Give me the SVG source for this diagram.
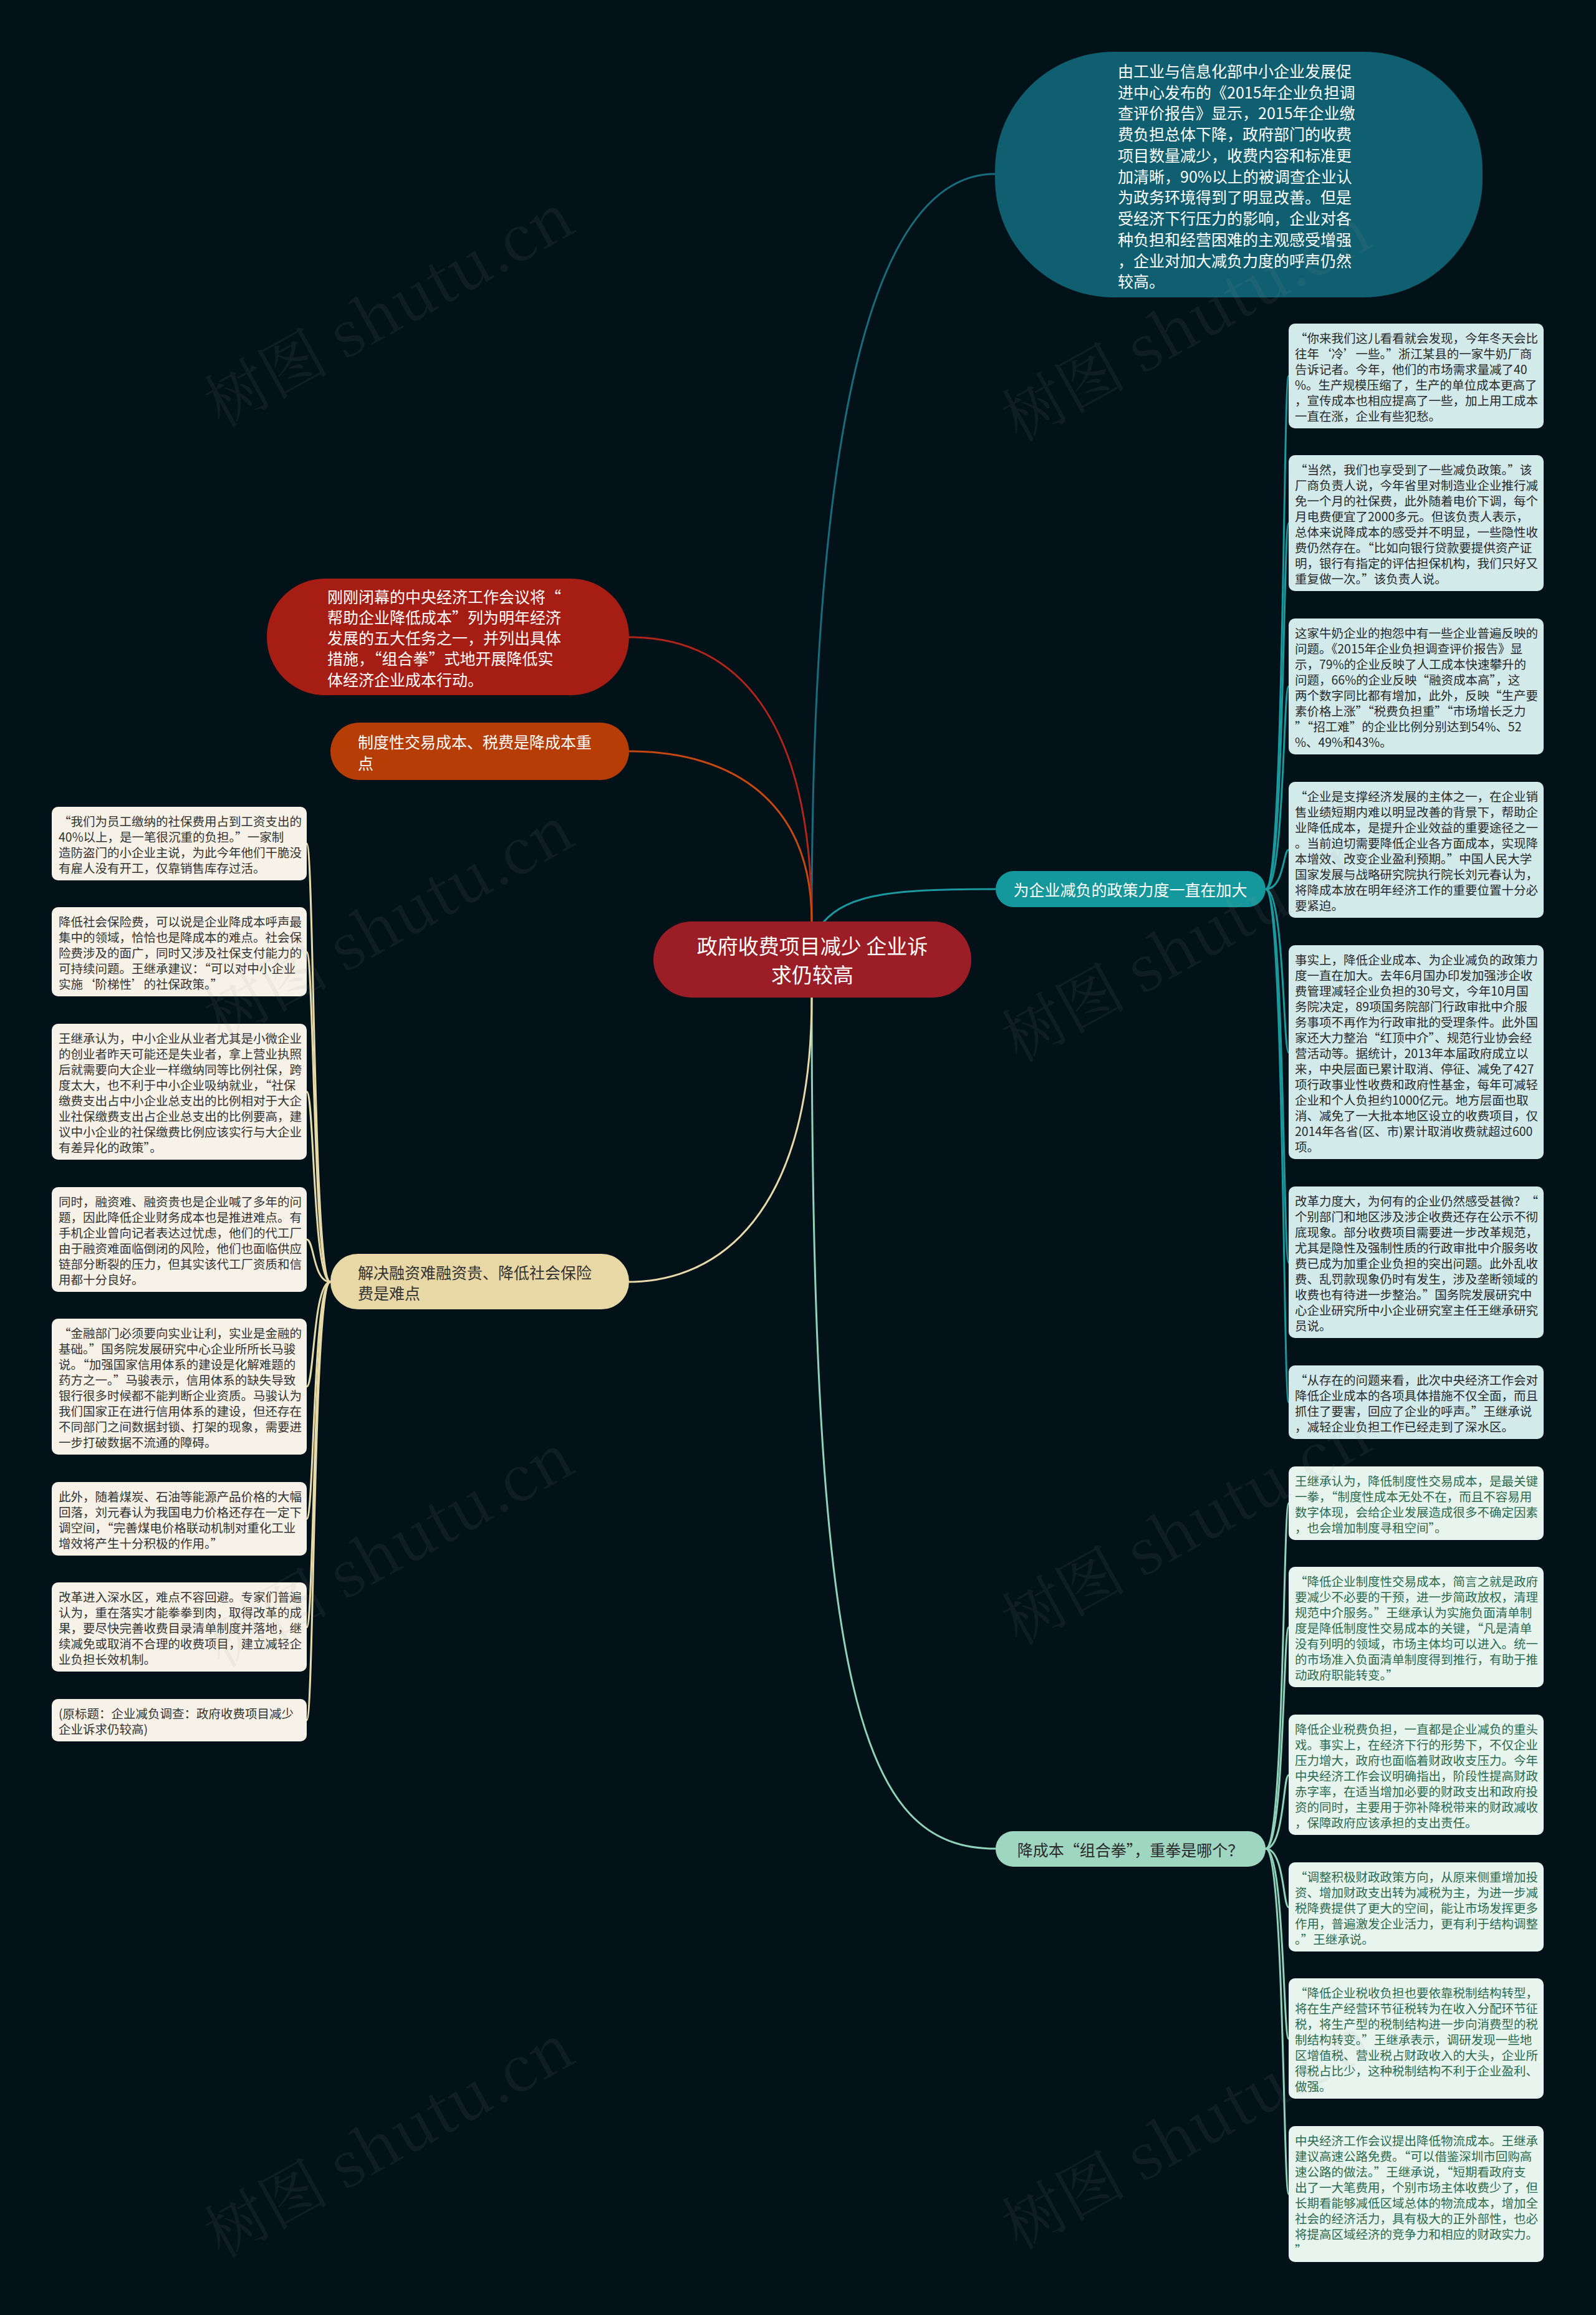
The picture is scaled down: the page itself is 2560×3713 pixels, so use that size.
<svg xmlns="http://www.w3.org/2000/svg" width="2560" height="3713" viewBox="0 0 2560 3713">
<style>
.t{font-family:"Noto Sans CJK SC","Noto Sans",sans-serif;dominant-baseline:central}
.lf{font-size:19.5px}
.rt{fill:#d3eaeb}.rtt{fill:#262a2c}
.gt{fill:#e8f5ef}.gtt{fill:#2b6a4e}
.lt{fill:#f7f2e7}.ltt{fill:#333333}
.c{fill:none;stroke-width:3}
.wm{font-family:"Noto Serif CJK SC","Liberation Serif",serif;font-size:100px;fill:#9a9a9a;opacity:0.09}
</style>
<rect x="0" y="0" width="2560" height="3713" fill="#031119"/>
<g id="connectors">
<path class="c" stroke="#176d7d" d="M1302 1478 C1302 600 1420 279 1596 279"/>
<path class="c" stroke="#1a9a9e" d="M1320 1480 C1360 1432 1440 1426 1597 1426"/>
<path class="c" stroke="#8fd3bb" d="M1302 1600 C1302 2720 1380 2965 1597 2965"/>
<path class="c" stroke="#b0241a" d="M1302 1478 C1302 1150 1180 1022 1009 1022"/>
<path class="c" stroke="#c5480e" d="M1302 1478 C1302 1290 1180 1205 1009 1205"/>
<path class="c" stroke="#e8d9a8" d="M1302 1600 C1302 1950 1150 2056 1009 2056"/>
<g stroke="#1a9a9e" class="c">
<path d="M2030 1426 C2060 1426 2058 603 2067 603"/>
<path d="M2030 1426 C2060 1426 2058 839 2067 839"/>
<path d="M2030 1426 C2060 1426 2058 1101 2067 1101"/>
<path d="M2030 1426 C2060 1426 2058 1363 2067 1363"/>
<path d="M2030 1426 C2060 1426 2058 1688 2067 1688"/>
<path d="M2030 1426 C2060 1426 2058 2025 2067 2025"/>
<path d="M2030 1426 C2060 1426 2058 2249 2067 2249"/>
</g>
<g stroke="#8fd3bb" class="c">
<path d="M2030 2965 C2060 2965 2058 2411 2067 2411"/>
<path d="M2030 2965 C2060 2965 2058 2610 2067 2610"/>
<path d="M2030 2965 C2060 2965 2058 2847 2067 2847"/>
<path d="M2030 2965 C2060 2965 2058 3059 2067 3059"/>
<path d="M2030 2965 C2060 2965 2058 3270 2067 3270"/>
<path d="M2030 2965 C2060 2965 2058 3519 2067 3519"/>
</g>
<g stroke="#e8d9a8" class="c">
<path d="M530 2056 C502 2056 504 1353 492 1353"/>
<path d="M530 2056 C502 2056 504 1527 492 1527"/>
<path d="M530 2056 C502 2056 504 1751 492 1751"/>
<path d="M530 2056 C502 2056 504 1988 492 1988"/>
<path d="M530 2056 C502 2056 504 2224 492 2224"/>
<path d="M530 2056 C502 2056 504 2436 492 2436"/>
<path d="M530 2056 C502 2056 504 2610 492 2610"/>
<path d="M530 2056 C502 2056 504 2759 492 2759"/>
</g>
</g>
<g id="root">
<rect x="1048" y="1478" width="510" height="122" rx="61" fill="#9b1e26"/>
<text class="t" x="1303" y="1516" font-size="33" fill="#ffffff" text-anchor="middle">政府收费项目减少 企业诉</text>
<text class="t" x="1303" y="1562" font-size="33" fill="#ffffff" text-anchor="middle">求仍较高</text>
</g>
<g id="top-summary">
<rect x="1596" y="83" width="782" height="394" rx="190" fill="#0f5f70"/>
<g class="t" font-size="25" fill="#ffffff">
<text x="1793" y="113">由工业与信息化部中小企业发展促</text>
<text x="1793" y="147">进中心发布的《2015年企业负担调</text>
<text x="1793" y="180">查评价报告》显示，2015年企业缴</text>
<text x="1793" y="214">费负担总体下降，政府部门的收费</text>
<text x="1793" y="248">项目数量减少，收费内容和标准更</text>
<text x="1793" y="282">加清晰，90%以上的被调查企业认</text>
<text x="1793" y="315">为政务环境得到了明显改善。但是</text>
<text x="1793" y="349">受经济下行压力的影响，企业对各</text>
<text x="1793" y="383">种负担和经营困难的主观感受增强</text>
<text x="1793" y="417">，企业对加大减负力度的呼声仍然</text>
<text x="1793" y="450">较高。</text>
</g>
</g>
<g id="meeting">
<rect x="428" y="928" width="581" height="187" rx="93" fill="#a61d14"/>
<g class="t" font-size="25" fill="#ffffff">
<text x="525" y="956">刚刚闭幕的中央经济工作会议将“</text>
<text x="525" y="989">帮助企业降低成本”列为明年经济</text>
<text x="525" y="1022">发展的五大任务之一，并列出具体</text>
<text x="525" y="1055">措施，“组合拳”式地开展降低实</text>
<text x="525" y="1089">体经济企业成本行动。</text>
</g>
</g>
<g id="focus">
<rect x="530" y="1159" width="479" height="92" rx="46" fill="#b63d06"/>
<g class="t" font-size="25" fill="#ffffff">
<text x="574" y="1189">制度性交易成本、税费是降成本重</text>
<text x="574" y="1223">点</text>
</g>
</g>
<g id="difficulty">
<rect x="530" y="2011" width="479" height="89" rx="44" fill="#e8d8a6"/>
<g class="t" font-size="25" fill="#333333">
<text x="574" y="2040">解决融资难融资贵、降低社会保险</text>
<text x="574" y="2073">费是难点</text>
</g>
</g>
<g id="policy">
<rect x="1597" y="1397" width="433" height="58" rx="29" fill="#15989b"/>
<text class="t" x="1813" y="1426" font-size="25" fill="#ffffff" text-anchor="middle">为企业减负的政策力度一直在加大</text>
</g>
<g id="combo">
<rect x="1597" y="2937" width="433" height="57" rx="28" fill="#9fd6c2"/>
<text class="t" x="1813" y="2966" font-size="25" fill="#2a2a2a" text-anchor="middle">降成本“组合拳”，重拳是哪个？</text>
</g>
<g id="r1" transform="translate(2067 519)"><rect class="rt" width="409" height="168" rx="10"/>
<g class="t lf rtt"><text x="10" y="22">“你来我们这儿看看就会发现，今年冬天会比</text><text x="10" y="47">往年‘冷’一些。”浙江某县的一家牛奶厂商</text><text x="10" y="72">告诉记者。今年，他们的市场需求量减了40</text><text x="10" y="97">%。生产规模压缩了，生产的单位成本更高了</text><text x="10" y="122">，宣传成本也相应提高了一些，加上用工成本</text><text x="10" y="147">一直在涨，企业有些犯愁。</text></g></g>
<g id="r2" transform="translate(2067 730)"><rect class="rt" width="409" height="218" rx="10"/>
<g class="t lf rtt"><text x="10" y="22">“当然，我们也享受到了一些减负政策。”该</text><text x="10" y="47">厂商负责人说，今年省里对制造业企业推行减</text><text x="10" y="72">免一个月的社保费，此外随着电价下调，每个</text><text x="10" y="97">月电费便宜了2000多元。但该负责人表示，</text><text x="10" y="122">总体来说降成本的感受并不明显，一些隐性收</text><text x="10" y="147">费仍然存在。“比如向银行贷款要提供资产证</text><text x="10" y="172">明，银行有指定的评估担保机构，我们只好又</text><text x="10" y="197">重复做一次。”该负责人说。</text></g></g>
<g id="r3" transform="translate(2067 992)"><rect class="rt" width="409" height="218" rx="10"/>
<g class="t lf rtt"><text x="10" y="22">这家牛奶企业的抱怨中有一些企业普遍反映的</text><text x="10" y="47">问题。《2015年企业负担调查评价报告》显</text><text x="10" y="72">示，79%的企业反映了人工成本快速攀升的</text><text x="10" y="97">问题，66%的企业反映“融资成本高”，这</text><text x="10" y="122">两个数字同比都有增加，此外，反映“生产要</text><text x="10" y="147">素价格上涨”“税费负担重”“市场增长乏力</text><text x="10" y="172">”“招工难”的企业比例分别达到54%、52</text><text x="10" y="197">%、49%和43%。</text></g></g>
<g id="r4" transform="translate(2067 1254)"><rect class="rt" width="409" height="218" rx="10"/>
<g class="t lf rtt"><text x="10" y="22">“企业是支撑经济发展的主体之一，在企业销</text><text x="10" y="47">售业绩短期内难以明显改善的背景下，帮助企</text><text x="10" y="72">业降低成本，是提升企业效益的重要途径之一</text><text x="10" y="97">。当前迫切需要降低企业各方面成本，实现降</text><text x="10" y="122">本增效、改变企业盈利预期。”中国人民大学</text><text x="10" y="147">国家发展与战略研究院执行院长刘元春认为，</text><text x="10" y="172">将降成本放在明年经济工作的重要位置十分必</text><text x="10" y="197">要紧迫。</text></g></g>
<g id="r5" transform="translate(2067 1516)"><rect class="rt" width="409" height="343" rx="10"/>
<g class="t lf rtt"><text x="10" y="22">事实上，降低企业成本、为企业减负的政策力</text><text x="10" y="47">度一直在加大。去年6月国办印发加强涉企收</text><text x="10" y="72">费管理减轻企业负担的30号文，今年10月国</text><text x="10" y="97">务院决定，89项国务院部门行政审批中介服</text><text x="10" y="122">务事项不再作为行政审批的受理条件。此外国</text><text x="10" y="147">家还大力整治“红顶中介”、规范行业协会经</text><text x="10" y="172">营活动等。据统计，2013年本届政府成立以</text><text x="10" y="197">来，中央层面已累计取消、停征、减免了427</text><text x="10" y="222">项行政事业性收费和政府性基金，每年可减轻</text><text x="10" y="247">企业和个人负担约1000亿元。地方层面也取</text><text x="10" y="272">消、减免了一大批本地区设立的收费项目，仅</text><text x="10" y="297">2014年各省(区、市)累计取消收费就超过600</text><text x="10" y="322">项。</text></g></g>
<g id="r6" transform="translate(2067 1903)"><rect class="rt" width="409" height="243" rx="10"/>
<g class="t lf rtt"><text x="10" y="22">改革力度大，为何有的企业仍然感受甚微？“</text><text x="10" y="47">个别部门和地区涉及涉企收费还存在公示不彻</text><text x="10" y="72">底现象。部分收费项目需要进一步改革规范，</text><text x="10" y="97">尤其是隐性及强制性质的行政审批中介服务收</text><text x="10" y="122">费已成为加重企业负担的突出问题。此外乱收</text><text x="10" y="147">费、乱罚款现象仍时有发生，涉及垄断领域的</text><text x="10" y="172">收费也有待进一步整治。”国务院发展研究中</text><text x="10" y="197">心企业研究所中小企业研究室主任王继承研究</text><text x="10" y="222">员说。</text></g></g>
<g id="r7" transform="translate(2067 2190)"><rect class="rt" width="409" height="118" rx="10"/>
<g class="t lf rtt"><text x="10" y="22">“从存在的问题来看，此次中央经济工作会对</text><text x="10" y="47">降低企业成本的各项具体措施不仅全面，而且</text><text x="10" y="72">抓住了要害，回应了企业的呼声。”王继承说</text><text x="10" y="97">，减轻企业负担工作已经走到了深水区。</text></g></g>
<g id="r8" transform="translate(2067 2352)"><rect class="gt" width="409" height="118" rx="10"/>
<g class="t lf gtt"><text x="10" y="22">王继承认为，降低制度性交易成本，是最关键</text><text x="10" y="47">一拳，“制度性成本无处不在，而且不容易用</text><text x="10" y="72">数字体现，会给企业发展造成很多不确定因素</text><text x="10" y="97">，也会增加制度寻租空间”。</text></g></g>
<g id="r9" transform="translate(2067 2513)"><rect class="gt" width="409" height="193" rx="10"/>
<g class="t lf gtt"><text x="10" y="22">“降低企业制度性交易成本，简言之就是政府</text><text x="10" y="47">要减少不必要的干预，进一步简政放权，清理</text><text x="10" y="72">规范中介服务。”王继承认为实施负面清单制</text><text x="10" y="97">度是降低制度性交易成本的关键，“凡是清单</text><text x="10" y="122">没有列明的领域，市场主体均可以进入。统一</text><text x="10" y="147">的市场准入负面清单制度得到推行，有助于推</text><text x="10" y="172">动政府职能转变。”</text></g></g>
<g id="r10" transform="translate(2067 2750)"><rect class="gt" width="409" height="193" rx="10"/>
<g class="t lf gtt"><text x="10" y="22">降低企业税费负担，一直都是企业减负的重头</text><text x="10" y="47">戏。事实上，在经济下行的形势下，不仅企业</text><text x="10" y="72">压力增大，政府也面临着财政收支压力。今年</text><text x="10" y="97">中央经济工作会议明确指出，阶段性提高财政</text><text x="10" y="122">赤字率，在适当增加必要的财政支出和政府投</text><text x="10" y="147">资的同时，主要用于弥补降税带来的财政减收</text><text x="10" y="172">，保障政府应该承担的支出责任。</text></g></g>
<g id="r11" transform="translate(2067 2987)"><rect class="gt" width="409" height="143" rx="10"/>
<g class="t lf gtt"><text x="10" y="22">“调整积极财政政策方向，从原来侧重增加投</text><text x="10" y="47">资、增加财政支出转为减税为主，为进一步减</text><text x="10" y="72">税降费提供了更大的空间，能让市场发挥更多</text><text x="10" y="97">作用，普遍激发企业活力，更有利于结构调整</text><text x="10" y="122">。”王继承说。</text></g></g>
<g id="r12" transform="translate(2067 3173)"><rect class="gt" width="409" height="193" rx="10"/>
<g class="t lf gtt"><text x="10" y="22">“降低企业税收负担也要依靠税制结构转型，</text><text x="10" y="47">将在生产经营环节征税转为在收入分配环节征</text><text x="10" y="72">税，将生产型的税制结构进一步向消费型的税</text><text x="10" y="97">制结构转变。”王继承表示，调研发现一些地</text><text x="10" y="122">区增值税、营业税占财政收入的大头，企业所</text><text x="10" y="147">得税占比少，这种税制结构不利于企业盈利、</text><text x="10" y="172">做强。</text></g></g>
<g id="r13" transform="translate(2067 3410)"><rect class="gt" width="409" height="218" rx="10"/>
<g class="t lf gtt"><text x="10" y="22">中央经济工作会议提出降低物流成本。王继承</text><text x="10" y="47">建议高速公路免费。“可以借鉴深圳市回购高</text><text x="10" y="72">速公路的做法。”王继承说，“短期看政府支</text><text x="10" y="97">出了一大笔费用，个别市场主体收费少了，但</text><text x="10" y="122">长期看能够减低区域总体的物流成本，增加全</text><text x="10" y="147">社会的经济活力，具有极大的正外部性，也必</text><text x="10" y="172">将提高区域经济的竞争力和相应的财政实力。</text><text x="10" y="197">”</text></g></g>
<g id="l1" transform="translate(83 1294)"><rect class="lt" width="409" height="118" rx="10"/>
<g class="t lf ltt"><text x="11" y="22">“我们为员工缴纳的社保费用占到工资支出的</text><text x="11" y="47">40%以上，是一笔很沉重的负担。”一家制</text><text x="11" y="72">造防盗门的小企业主说，为此今年他们干脆没</text><text x="11" y="97">有雇人没有开工，仅靠销售库存过活。</text></g></g>
<g id="l2" transform="translate(83 1455)"><rect class="lt" width="409" height="143" rx="10"/>
<g class="t lf ltt"><text x="11" y="22">降低社会保险费，可以说是企业降成本呼声最</text><text x="11" y="47">集中的领域，恰恰也是降成本的难点。社会保</text><text x="11" y="72">险费涉及的面广，同时又涉及社保支付能力的</text><text x="11" y="97">可持续问题。王继承建议：“可以对中小企业</text><text x="11" y="122">实施‘阶梯性’的社保政策。”</text></g></g>
<g id="l3" transform="translate(83 1642)"><rect class="lt" width="409" height="218" rx="10"/>
<g class="t lf ltt"><text x="11" y="22">王继承认为，中小企业从业者尤其是小微企业</text><text x="11" y="47">的创业者昨天可能还是失业者，拿上营业执照</text><text x="11" y="72">后就需要向大企业一样缴纳同等比例社保，跨</text><text x="11" y="97">度太大，也不利于中小企业吸纳就业，“社保</text><text x="11" y="122">缴费支出占中小企业总支出的比例相对于大企</text><text x="11" y="147">业社保缴费支出占企业总支出的比例要高，建</text><text x="11" y="172">议中小企业的社保缴费比例应该实行与大企业</text><text x="11" y="197">有差异化的政策”。</text></g></g>
<g id="l4" transform="translate(83 1904)"><rect class="lt" width="409" height="168" rx="10"/>
<g class="t lf ltt"><text x="11" y="22">同时，融资难、融资贵也是企业喊了多年的问</text><text x="11" y="47">题，因此降低企业财务成本也是推进难点。有</text><text x="11" y="72">手机企业曾向记者表达过忧虑，他们的代工厂</text><text x="11" y="97">由于融资难面临倒闭的风险，他们也面临供应</text><text x="11" y="122">链部分断裂的压力，但其实该代工厂资质和信</text><text x="11" y="147">用都十分良好。</text></g></g>
<g id="l5" transform="translate(83 2115)"><rect class="lt" width="409" height="218" rx="10"/>
<g class="t lf ltt"><text x="11" y="22">“金融部门必须要向实业让利，实业是金融的</text><text x="11" y="47">基础。”国务院发展研究中心企业所所长马骏</text><text x="11" y="72">说。“加强国家信用体系的建设是化解难题的</text><text x="11" y="97">药方之一。”马骏表示，信用体系的缺失导致</text><text x="11" y="122">银行很多时候都不能判断企业资质。马骏认为</text><text x="11" y="147">我们国家正在进行信用体系的建设，但还存在</text><text x="11" y="172">不同部门之间数据封锁、打架的现象，需要进</text><text x="11" y="197">一步打破数据不流通的障碍。</text></g></g>
<g id="l6" transform="translate(83 2377)"><rect class="lt" width="409" height="118" rx="10"/>
<g class="t lf ltt"><text x="11" y="22">此外，随着煤炭、石油等能源产品价格的大幅</text><text x="11" y="47">回落，刘元春认为我国电力价格还存在一定下</text><text x="11" y="72">调空间，“完善煤电价格联动机制对重化工业</text><text x="11" y="97">增效将产生十分积极的作用。”</text></g></g>
<g id="l7" transform="translate(83 2538)"><rect class="lt" width="409" height="143" rx="10"/>
<g class="t lf ltt"><text x="11" y="22">改革进入深水区，难点不容回避。专家们普遍</text><text x="11" y="47">认为，重在落实才能拳拳到肉，取得改革的成</text><text x="11" y="72">果，要尽快完善收费目录清单制度并落地，继</text><text x="11" y="97">续减免或取消不合理的收费项目，建立减轻企</text><text x="11" y="122">业负担长效机制。</text></g></g>
<g id="l8" transform="translate(83 2725)"><rect class="lt" width="409" height="68" rx="10"/>
<g class="t lf ltt"><text x="11" y="22">(原标题：企业减负调查：政府收费项目减少</text><text x="11" y="47">企业诉求仍较高)</text></g></g>
<g id="watermarks">
<text class="wm" x="355" y="687" transform="rotate(-29 355 687)">树图 shutu.cn</text>
<text class="wm" x="1634" y="710" transform="rotate(-29 1634 710)">树图 shutu.cn</text>
<text class="wm" x="355" y="1670" transform="rotate(-29 355 1670)">树图 shutu.cn</text>
<text class="wm" x="1634" y="1705" transform="rotate(-29 1634 1705)">树图 shutu.cn</text>
<text class="wm" x="355" y="2676" transform="rotate(-29 355 2676)">树图 shutu.cn</text>
<text class="wm" x="1634" y="2640" transform="rotate(-29 1634 2640)">树图 shutu.cn</text>
<text class="wm" x="355" y="3623" transform="rotate(-29 355 3623)">树图 shutu.cn</text>
<text class="wm" x="1634" y="3610" transform="rotate(-29 1634 3610)">树图 shutu.cn</text>
</g>
</svg>
